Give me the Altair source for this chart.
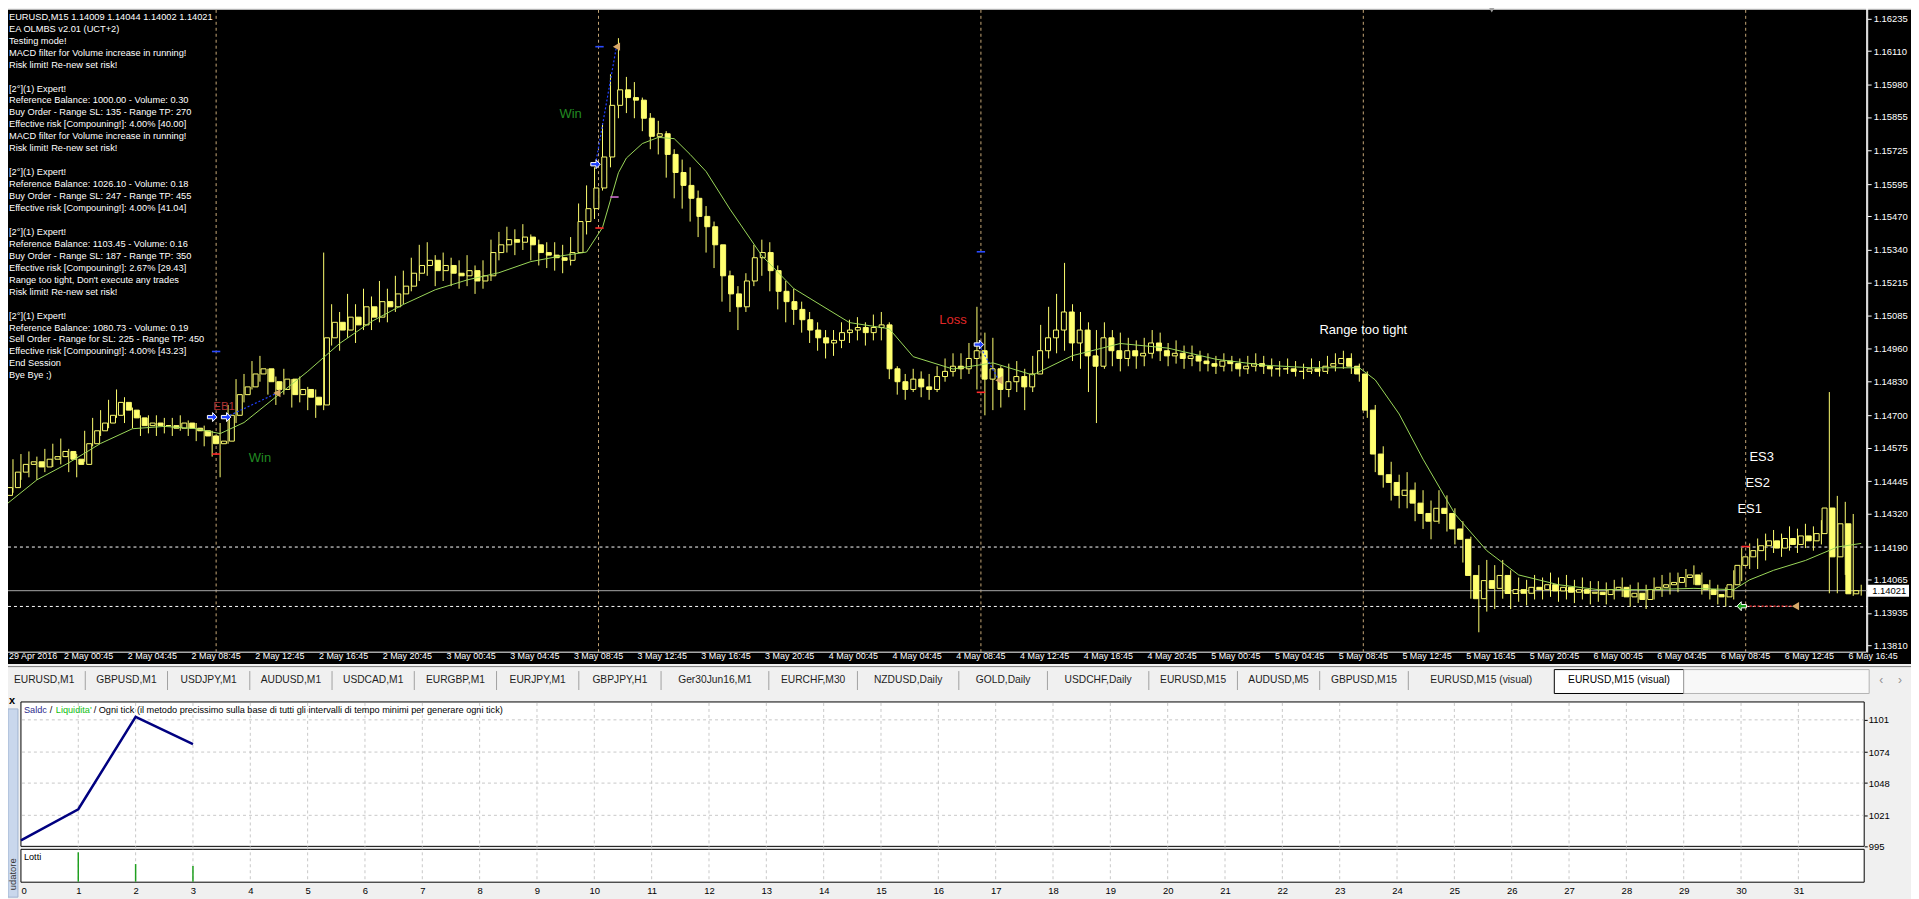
import altair as alt
import pandas as pd

# ---------------- values ----------------
first_open = 1.1439
close = [
1.1442, 1.1448, 1.1451, 1.1452, 1.1450, 1.1453, 1.1454, 1.1456, 1.1453, 1.1451,
1.1459, 1.1464, 1.1467, 1.1470, 1.1475, 1.1472, 1.1469, 1.1466, 1.1467, 1.1466,
1.1466, 1.1465, 1.1467, 1.1465, 1.1464, 1.1462, 1.1459, 1.1460, 1.1470, 1.1478,
1.1481, 1.1486, 1.1488, 1.1483, 1.1480, 1.1484, 1.1478, 1.1480, 1.1477, 1.1474,
1.1500, 1.1506, 1.1503, 1.1508, 1.1505, 1.1512, 1.1508, 1.1514, 1.1512, 1.1517,
1.1520, 1.1525, 1.1528, 1.1530, 1.1526, 1.1528, 1.1525, 1.1524, 1.1526, 1.1522,
1.1524, 1.1533, 1.1536, 1.1538, 1.1537, 1.1539, 1.1536, 1.1533, 1.1532, 1.1531,
1.1530, 1.1533, 1.1545, 1.1550, 1.1558, 1.1570, 1.1590, 1.1596, 1.1593, 1.1592,
1.1585, 1.1578, 1.1579, 1.1571, 1.1564, 1.1559, 1.1554, 1.1547, 1.1543, 1.1536,
1.1524, 1.1517, 1.1512, 1.1522, 1.1531, 1.1533, 1.1526, 1.1518, 1.1514, 1.1511,
1.1507, 1.1503, 1.1500, 1.1498, 1.1499, 1.1502, 1.1503, 1.1504, 1.1502, 1.1504,
1.1505, 1.1488, 1.1483, 1.1480, 1.1484, 1.1481, 1.1480, 1.1485, 1.1487, 1.1489,
1.1488, 1.1492, 1.1495, 1.1484, 1.1488, 1.1480, 1.1483, 1.1485, 1.1481, 1.1486,
1.1495, 1.1500, 1.1503, 1.1510, 1.1498, 1.1503, 1.1493, 1.1489, 1.1500, 1.1495,
1.1492, 1.1495, 1.1493, 1.1494, 1.1498, 1.1495, 1.1493, 1.1494, 1.1492, 1.1493,
1.1491, 1.1490, 1.1489, 1.1491, 1.1490, 1.1488, 1.1489, 1.1490, 1.1489, 1.1488,
1.1488, 1.1488, 1.1487, 1.1487, 1.1488, 1.1487, 1.1489, 1.1490, 1.1492, 1.1489,
1.1486, 1.1472, 1.1455, 1.1447, 1.1444, 1.1439, 1.1441, 1.1436, 1.1432, 1.1429,
1.1434, 1.1432, 1.1426, 1.1422, 1.1408, 1.1399, 1.1406, 1.1403, 1.1408, 1.1401,
1.14025, 1.14011, 1.14034, 1.14025, 1.14044, 1.14020, 1.14034, 1.14015, 1.14025, 1.14011,
1.14015, 1.14006, 1.14025, 1.14034, 1.13997, 1.14011, 1.13987, 1.14025, 1.14034, 1.14044,
1.14053, 1.14072, 1.14082, 1.14044, 1.14025, 1.14006, 1.13997, 1.14044, 1.14119, 1.14152,
1.14176, 1.14195, 1.14214, 1.14186, 1.14223, 1.14200, 1.14233, 1.14214, 1.14242, 1.14341,
1.14152, 1.14280, 1.14009, 1.14021,
]
high = [
1.1447, 1.1453, 1.1455, 1.1456, 1.1454, 1.1457, 1.1459, 1.1461, 1.1457, 1.1455,
1.1464, 1.1469, 1.1472, 1.1476, 1.1480, 1.1477, 1.1473, 1.1470, 1.1470, 1.1470,
1.1469, 1.1469, 1.1470, 1.1468, 1.1467, 1.1466, 1.1464, 1.1467, 1.1474, 1.1484,
1.1486, 1.1491, 1.1493, 1.1488, 1.1485, 1.1488, 1.1484, 1.1485, 1.1481, 1.1480,
1.1533, 1.1513, 1.1510, 1.1517, 1.1513, 1.1519, 1.1516, 1.1522, 1.1519, 1.1524,
1.1526, 1.1531, 1.1536, 1.1537, 1.1532, 1.1533, 1.1531, 1.1530, 1.1532, 1.1528,
1.1530, 1.1538, 1.1541, 1.1543, 1.1542, 1.1544, 1.1540, 1.1538, 1.1537, 1.1537,
1.1536, 1.1539, 1.1552, 1.1559, 1.1566, 1.1583, 1.1602, 1.1616, 1.1601, 1.1599,
1.1593, 1.1587, 1.1584, 1.1580, 1.1573, 1.1569, 1.1566, 1.1557, 1.1551, 1.1545,
1.1533, 1.1526, 1.1520, 1.1525, 1.1536, 1.1538, 1.1537, 1.1528, 1.1522, 1.1519,
1.1514, 1.1510, 1.1506, 1.1503, 1.1503, 1.1506, 1.1507, 1.1508, 1.1506, 1.1509,
1.1510, 1.1506, 1.1489, 1.1486, 1.1488, 1.1487, 1.1486, 1.1489, 1.1492, 1.1494,
1.1494, 1.1498, 1.1512, 1.1502, 1.1500, 1.1489, 1.1490, 1.1491, 1.1488, 1.1493,
1.1505, 1.1512, 1.1517, 1.1529, 1.1513, 1.1510, 1.1506, 1.1503, 1.1506, 1.1503,
1.1502, 1.1500, 1.1499, 1.1500, 1.1503, 1.1502, 1.1498, 1.1499, 1.1497, 1.1497,
1.1495, 1.1494, 1.1493, 1.1494, 1.1493, 1.1492, 1.1493, 1.1494, 1.1493, 1.1492,
1.1491, 1.1492, 1.1491, 1.1490, 1.1492, 1.1491, 1.1493, 1.1494, 1.1495, 1.1494,
1.1490, 1.1487, 1.1474, 1.1458, 1.1452, 1.1447, 1.1448, 1.1444, 1.1441, 1.1437,
1.1441, 1.1439, 1.1434, 1.1429, 1.1423, 1.1412, 1.1414, 1.1412, 1.1414, 1.1410,
1.14072, 1.14063, 1.14082, 1.14072, 1.14091, 1.14072, 1.14082, 1.14063, 1.14072, 1.14058,
1.14058, 1.14053, 1.14063, 1.14072, 1.14044, 1.14053, 1.14044, 1.14072, 1.14082, 1.14091,
1.14091, 1.14105, 1.14119, 1.14091, 1.14063, 1.14044, 1.14034, 1.14100, 1.14186, 1.14204,
1.14223, 1.14242, 1.14256, 1.14242, 1.14270, 1.14261, 1.14280, 1.14270, 1.14294, 1.14790,
1.14388, 1.14365, 1.14318, 1.14044,
]
low = [
1.1436, 1.1440, 1.1445, 1.1446, 1.1445, 1.1448, 1.1450, 1.1451, 1.1448, 1.1446,
1.1452, 1.1458, 1.1462, 1.1465, 1.1469, 1.1467, 1.1465, 1.1462, 1.1463, 1.1462,
1.1463, 1.1462, 1.1464, 1.1462, 1.1460, 1.1458, 1.1454, 1.1446, 1.1459, 1.1467,
1.1475, 1.1480, 1.1483, 1.1478, 1.1474, 1.1478, 1.1473, 1.1475, 1.1472, 1.1469,
1.1472, 1.1497, 1.1495, 1.1500, 1.1498, 1.1503, 1.1503, 1.1506, 1.1506, 1.1510,
1.1513, 1.1518, 1.1522, 1.1524, 1.1520, 1.1522, 1.1520, 1.1519, 1.1520, 1.1517,
1.1519, 1.1522, 1.1530, 1.1533, 1.1532, 1.1534, 1.1530, 1.1528, 1.1527, 1.1526,
1.1525, 1.1528, 1.1533, 1.1540, 1.1546, 1.1557, 1.1566, 1.1585, 1.1587, 1.1585,
1.1580, 1.1573, 1.1571, 1.1562, 1.1554, 1.1550, 1.1545, 1.1539, 1.1533, 1.1527,
1.1514, 1.1510, 1.1503, 1.1510, 1.1520, 1.1524, 1.1518, 1.1511, 1.1506, 1.1505,
1.1502, 1.1498, 1.1495, 1.1492, 1.1493, 1.1496, 1.1498, 1.1499, 1.1497, 1.1499,
1.1499, 1.1484, 1.1478, 1.1476, 1.1479, 1.1477, 1.1476, 1.1479, 1.1483, 1.1485,
1.1484, 1.1486, 1.1480, 1.1470, 1.1472, 1.1473, 1.1477, 1.1479, 1.1472, 1.1479,
1.1488, 1.1492, 1.1494, 1.1495, 1.1491, 1.1488, 1.1479, 1.1467, 1.1488, 1.1489,
1.1487, 1.1489, 1.1488, 1.1489, 1.1492, 1.1491, 1.1489, 1.1490, 1.1488, 1.1489,
1.1487, 1.1487, 1.1486, 1.1487, 1.1487, 1.1485, 1.1486, 1.1487, 1.1486, 1.1485,
1.1485, 1.1486, 1.1485, 1.1484, 1.1486, 1.1485, 1.1486, 1.1487, 1.1488, 1.1486,
1.1483, 1.1469, 1.1448, 1.1442, 1.1437, 1.1434, 1.1434, 1.1429, 1.1426, 1.1422,
1.1428, 1.1425, 1.1420, 1.1413, 1.1399, 1.1386, 1.1394, 1.1395, 1.1399, 1.1395,
1.13978, 1.13964, 1.13987, 1.13987, 1.13997, 1.13978, 1.13987, 1.13973, 1.13987, 1.13968,
1.13978, 1.13968, 1.13987, 1.13997, 1.13959, 1.13973, 1.13950, 1.13987, 1.13997, 1.14006,
1.14015, 1.14034, 1.14044, 1.14006, 1.13987, 1.13968, 1.13959, 1.13987, 1.14058, 1.14105,
1.14105, 1.14138, 1.14167, 1.14152, 1.14176, 1.14167, 1.14186, 1.14176, 1.14200, 1.14011,
1.14011, 1.14082, 1.14001, 1.14002,
]

# moving average (bar index on the M15 axis, value)
ma_bar = [0, 8, 16, 24, 32, 40, 48, 54, 60, 68, 76, 84, 92, 100, 108, 116, 124, 132, 140, 146,
          150, 154, 156, 160, 164, 168, 172, 176, 182, 190, 198, 212, 222, 228, 238, 248, 258, 268, 280, 292,
          304, 316, 328, 340, 344, 350, 356, 364, 372, 380, 390, 400, 412, 424, 434, 438, 444, 452, 460, 466]
ma_val = [1.14351, 1.14450, 1.14516, 1.14591, 1.14648, 1.14657, 1.14648, 1.14629, 1.14672, 1.14771,
          1.14870, 1.14978, 1.15063, 1.15129, 1.15186, 1.15224, 1.15252, 1.15295, 1.15318, 1.15332,
          1.15427, 1.15639, 1.15696, 1.15752, 1.15776, 1.15771, 1.15710, 1.15644, 1.15498, 1.15318,
          1.15191, 1.15059, 1.15035, 1.14927, 1.14879, 1.14903, 1.14856, 1.14931, 1.14978, 1.14960,
          1.14917, 1.14894, 1.14884, 1.14884, 1.14837, 1.14705, 1.14530, 1.14318, 1.14176, 1.14082,
          1.14044, 1.14025, 1.14025, 1.14030, 1.14025, 1.14063, 1.14100, 1.14138, 1.14190, 1.14204]

time_labels = ["29 Apr 2016",
               "2 May 00:45", "2 May 04:45", "2 May 08:45", "2 May 12:45", "2 May 16:45", "2 May 20:45",
               "3 May 00:45", "3 May 04:45", "3 May 08:45", "3 May 12:45", "3 May 16:45", "3 May 20:45",
               "4 May 00:45", "4 May 04:45", "4 May 08:45", "4 May 12:45", "4 May 16:45", "4 May 20:45",
               "5 May 00:45", "5 May 04:45", "5 May 08:45", "5 May 12:45", "5 May 16:45", "5 May 20:45",
               "6 May 00:45", "6 May 04:45", "6 May 08:45", "6 May 12:45", "6 May 16:45"]
price_ticks = [1.16235, 1.16110, 1.15980, 1.15855, 1.15725, 1.15595, 1.15470, 1.15340, 1.15215, 1.15085,
               1.14960, 1.14830, 1.14700, 1.14575, 1.14445, 1.14320, 1.14190, 1.14065, 1.13935, 1.13810]
bid = 1.14021
order_levels = [1.14190, 1.13960]
session_bars = [53, 149, 245, 341, 437]

buy_bar = [52, 55.5, 148.25, 244.5]
buy_price = [1.14693, 1.14693, 1.15672, 1.14974]
exit_bar = [68.25, 153.5, 249.5, 449.5]
exit_price = [1.14786, 1.16127, 1.14836, 1.13961]
sell_bar = [436]
sell_price = [1.13961]
sl_bar = [53, 149.25, 245, 437]
sl_price = [1.14550, 1.15425, 1.14789, 1.14192]
tp_bar = [53, 149.25, 245]
tp_price = [1.14947, 1.16127, 1.15333]
mod_bar = [153]
mod_price = [1.15545]

ann_text = ["Win", "Win", "Loss", "Range too tight", "ES3", "ES2", "ES1"]
ann_bar = [64, 142, 238, 341, 441, 440, 438]
ann_price = [1.14536, 1.15866, 1.15069, 1.15032, 1.14539, 1.14437, 1.14337]
ann_color = ["#228B22", "#228B22", "#E02828", "#FFFFFF", "#FFFFFF", "#FFFFFF", "#FFFFFF"]

info_lines = [
    "EURUSD,M15  1.14009 1.14044 1.14002 1.14021",
    "EA OLMBS v2.01 (UCT+2)",
    "Testing mode!",
    "MACD filter for Volume increase in running!",
    "Risk limit! Re-new set risk!",
    "",
    "[2°](1) Expert!",
    "Reference Balance: 1000.00 - Volume: 0.30",
    "Buy Order - Range SL: 135 - Range TP: 270",
    "Effective risk [Compouning!]: 4.00% [40.00]",
    "MACD filter for Volume increase in running!",
    "Risk limit! Re-new set risk!",
    "",
    "[2°](1) Expert!",
    "Reference Balance: 1026.10 - Volume: 0.18",
    "Buy Order - Range SL: 247 - Range TP: 455",
    "Effective risk [Compouning!]: 4.00% [41.04]",
    "",
    "[2°](1) Expert!",
    "Reference Balance: 1103.45 - Volume: 0.16",
    "Buy Order - Range SL: 187 - Range TP: 350",
    "Effective risk [Compouning!]: 2.67% [29.43]",
    "Range too tight, Don't execute any trades",
    "Risk limit! Re-new set risk!",
    "",
    "[2°](1) Expert!",
    "Reference Balance: 1080.73 - Volume: 0.19",
    "Sell Order - Range for SL: 225 - Range TP: 450",
    "Effective risk [Compouning!]: 4.00% [43.23]",
    "End Session",
    "Bye Bye ;)",
]

tabs = ["EURUSD,M1", "GBPUSD,M1", "USDJPY,M1", "AUDUSD,M1", "USDCAD,M1", "EURGBP,M1", "EURJPY,M1",
        "GBPJPY,H1", "Ger30Jun16,M1", "EURCHF,M30", "NZDUSD,Daily", "GOLD,Daily", "USDCHF,Daily",
        "EURUSD,M15", "AUDUSD,M5", "GBPUSD,M15", "EURUSD,M15 (visual)"]
active_tab = "EURUSD,M15 (visual)"

trade_no = [0, 1, 2, 3]
balance = [1000.00, 1026.10, 1103.45, 1080.73]
lot_trade = [1, 2, 3]
lots = [0.30, 0.18, 0.16]
balance_ticks = [995, 1021, 1048, 1074, 1101]

# ---------------- layout (pixels inside the drawing, page = pixel + 8) ----------------
W, H = 1867, 876
FULLW, FULLH = 1911, 891
PLOT_B = 645
YEL = "#FFFF70"
MAG = "#9BD85A"
FONT = "Liberation Sans"
T_TOP, T_BOT = 695, 840
L_TOP, L_BOT = 843, 876
P_RIGHT = 1864

X_MAIN = alt.Scale(domain=[-0.5, 467.5], range=[-5, W], zero=False, nice=False)
Y_MAIN = alt.Scale(domain=[1.13783, 1.16285], range=[PLOT_B, -4], zero=False, nice=False)
X_T = alt.Scale(domain=[0, 32.2], range=[13, W], zero=False, nice=False)
Y_T = alt.Scale(domain=[995, 1116], range=[T_BOT, T_TOP], zero=False, nice=False)
Y_L = alt.Scale(domain=[0, 0.3305], range=[875.5, L_TOP], zero=False, nice=False)


def xm(f):
    return alt.X(f, type="quantitative", scale=X_MAIN, axis=None)


def ym(f):
    return alt.Y(f, type="quantitative", scale=Y_MAIN, axis=None)


one = pd.DataFrame({"a": [0]})


def box(x0, x1, y0, y1, **kw):
    return alt.Chart(one).mark_rect(**kw).encode(
        x=alt.value(x0), x2=alt.value(x1), y=alt.value(y0), y2=alt.value(y1))


bars = pd.DataFrame({"t": [2 * k for k in range(len(close))], "close": close, "high": high, "low": low})
bars["open"] = [first_open] + close[:-1]

layers = []
# backgrounds
layers.append(box(0, FULLW, 0, 657, color="black"))
layers.append(box(-5, W - 0.5, -4, PLOT_B, fillOpacity=0, stroke="#FFFFFF", strokeWidth=1))

# session separators and order levels
layers.append(alt.Chart(pd.DataFrame({"t": session_bars})).mark_rule(
    color="#C8A878", strokeDash=[3, 3], strokeWidth=1).encode(x=xm("t"), y=alt.value(0), y2=alt.value(PLOT_B)))
layers.append(alt.Chart(pd.DataFrame({"p": order_levels})).mark_rule(
    color="#FFFFFF", strokeDash=[3, 3], strokeWidth=1).encode(y=ym("p"), x=alt.value(0), x2=alt.value(W)))
layers.append(alt.Chart(pd.DataFrame({"p": [bid]})).mark_rule(
    color="#A8A8A8", strokeWidth=1).encode(y=ym("p"), x=alt.value(0), x2=alt.value(W)))

# candles
price_axis = alt.Axis(orient="right", values=price_ticks, format=".5f", title=None, grid=False,
                      labelColor="#FFFFFF", labelFont=FONT, labelFontSize=9.5, tickColor="#FFFFFF",
                      tickSize=4, domainColor="#FFFFFF", labelPadding=2, zindex=1, labelOverlap=False)
layers.append(alt.Chart(bars).mark_rule(color=YEL, strokeWidth=1).encode(
    x=xm("t"), y=alt.Y("low:Q", scale=Y_MAIN, axis=price_axis), y2="high:Q"))
layers.append(alt.Chart(bars).mark_bar(width=5, stroke=YEL, strokeWidth=1).encode(
    x=xm("t"), y=ym("open"), y2="close:Q",
    fill=alt.condition("datum.close >= datum.open", alt.value("#000000"), alt.value(YEL))))

# moving average
layers.append(alt.Chart(pd.DataFrame({"t": ma_bar, "p": ma_val})).mark_line(
    color=MAG, strokeWidth=1).encode(x=xm("t"), y=ym("p")))

# trade lines
tl = pd.DataFrame({"t0": buy_bar[1:] + sell_bar, "p0": buy_price[1:] + sell_price,
                   "t1": exit_bar, "p1": exit_price,
                   "col": ["#2040FF", "#2040FF", "#2040FF", "#FF3030"]})
layers.append(alt.Chart(tl).mark_rule(strokeDash=[2, 2], strokeWidth=1.2).encode(
    x=xm("t0"), x2="t1:Q", y=ym("p0"), y2="p1:Q", color=alt.Color("col:N", scale=None)))

RIGHT_ARROW = "M-1,-0.35L0.1,-0.35L0.1,-0.95L1,0L0.1,0.95L0.1,0.35L-1,0.35Z"
LEFT_ARROW = "M1,-0.35L-0.1,-0.35L-0.1,-0.95L-1,0L-0.1,0.95L-0.1,0.35L1,0.35Z"
layers.append(alt.Chart(pd.DataFrame({"t": buy_bar, "p": buy_price})).mark_point(
    shape=RIGHT_ARROW, filled=True, fill="#1D3FFF", stroke="#FFFFFF", strokeWidth=1, size=90, opacity=1
).encode(x=xm("t"), y=ym("p")))
layers.append(alt.Chart(pd.DataFrame({"t": sell_bar, "p": sell_price})).mark_point(
    shape=LEFT_ARROW, filled=True, fill="#18A018", stroke="#FFFFFF", strokeWidth=1, size=90, opacity=1
).encode(x=xm("t"), y=ym("p")))
layers.append(alt.Chart(pd.DataFrame({"t": exit_bar, "p": exit_price})).mark_point(
    shape="triangle-left", filled=True, color="#D8A868", size=70, opacity=1
).encode(x=xm("t"), y=ym("p")))
ticks = pd.DataFrame({"t": sl_bar + tp_bar + mod_bar, "p": sl_price + tp_price + mod_price,
                      "col": ["#FF2A2A"] * len(sl_bar) + ["#2A4AFF"] * len(tp_bar) + ["#D070D0"]})
layers.append(alt.Chart(ticks).mark_point(shape="stroke", filled=False, strokeWidth=1.6, size=70, opacity=1).encode(
    x=xm("t"), y=ym("p"), color=alt.Color("col:N", scale=None)))

# annotations
ann = pd.DataFrame({"t": ann_bar, "p": ann_price, "txt": ann_text, "col": ann_color})
layers.append(alt.Chart(ann).mark_text(font=FONT, fontSize=13).encode(
    x=xm("t"), y=ym("p"), text="txt:N", color=alt.Color("col:N", scale=None)))
layers.append(alt.Chart(pd.DataFrame({"t": [55], "p": [1.14732], "txt": ["EB1"]})).mark_text(
    font=FONT, fontSize=11.5, color="#B03434").encode(x=xm("t"), y=ym("p"), text="txt:N"))

# bid price label box
biddf = pd.DataFrame({"p": [bid]})
layers.append(alt.Chart(biddf).mark_rect(color="#FFFFFF", yOffset=-6, y2Offset=6).encode(
    y=ym("p"), y2="p:Q", x=alt.value(W), x2=alt.value(W + 42)))
layers.append(alt.Chart(biddf).mark_text(align="left", color="#000000", font=FONT, fontSize=9.5).encode(
    y=ym("p"), x=alt.value(W + 5), text=alt.Text("p:Q", format=".5f")))

# time labels
xl = pd.DataFrame({"t": [5 + 16 * m for m in range(1, len(time_labels))], "lab": time_labels[1:]})
layers.append(alt.Chart(xl).mark_text(color="#FFFFFF", font=FONT, fontSize=9).encode(
    x=xm("t"), y=alt.value(PLOT_B + 4), text="lab:N"))
layers.append(alt.Chart(pd.DataFrame({"t": [-0.5], "lab": time_labels[:1]})).mark_text(
    color="#FFFFFF", font=FONT, fontSize=9, align="left", dx=1).encode(
    x=alt.value(0), y=alt.value(PLOT_B + 4), text="lab:N"))

# info text: one row per line, blank lines keep their slot
info = pd.DataFrame({"txt": info_lines, "row": list(range(len(info_lines)))})
info = info[info["txt"] != ""]
layers.append(alt.Chart(info).mark_text(
    align="left", baseline="middle", color="#FFFFFF", font=FONT, fontSize=9.3
).transform_calculate(py="7 + 12 * datum.row").encode(
    x=alt.value(1), y=alt.Y("py:Q", scale=None), text="txt:N"))
layers.append(alt.Chart(one).mark_point(shape="triangle-down", filled=True, color="#A0A0A0", size=35, opacity=1).encode(
    x=alt.value(1490), y=alt.value(0)))

# ---------------- tab bar ----------------
widths = [25 + 6.4 * len(t) for t in tabs]
lefts, pos = [], -5.0
for w in widths:
    lefts.append(pos)
    pos += w
tabdf = pd.DataFrame({"name": tabs, "cx": [l + w / 2 for l, w in zip(lefts, widths)],
                      "sep": [l + w for l, w in zip(lefts, widths)]})
act_l, act_r = pos, pos + 130
TAB_Y = 673
layers.append(alt.Chart(one).mark_rule(color="#7A7A7A").encode(
    x=alt.value(0), x2=alt.value(FULLW), y=alt.value(659.5)))
layers.append(alt.Chart(tabdf.iloc[:-1]).mark_rule(color="#A0A0A0").encode(
    x=alt.X("sep:Q", scale=None), y=alt.value(664), y2=alt.value(683)))
layers.append(alt.Chart(tabdf).mark_text(color="#1E1E1E", font=FONT, fontSize=10.3).encode(
    x=alt.X("cx:Q", scale=None), y=alt.value(TAB_Y), text="name:N"))
layers.append(box(act_l, act_r, 662.5, 686.5, fill="#FFFFFF", stroke="#000000", strokeWidth=1))
layers.append(alt.Chart(pd.DataFrame({"name": [active_tab]})).mark_text(
    color="#000000", font=FONT, fontSize=10.3).encode(
    x=alt.value((act_l + act_r) / 2), y=alt.value(TAB_Y), text="name:N"))
layers.append(box(act_r, 1869, 662.5, 686.5, fill="#F8F8F8", stroke="#B4B4B4", strokeWidth=1))
layers.append(alt.Chart(pd.DataFrame({"s": ["\u2039", "\u203a"], "px": [1881, 1900]})).mark_text(
    color="#909090", font=FONT, fontSize=12).encode(x=alt.X("px:Q", scale=None), y=alt.value(TAB_Y), text="s:N"))

# ---------------- tester ----------------
layers.append(box(0, 10, 702, FULLH, fill="#C9D7EC", stroke="#9FB3D1", strokeWidth=1))
layers.append(alt.Chart(pd.DataFrame({"s": ["udatore"]})).mark_text(
    angle=270, align="right", baseline="middle", color="#333333", font=FONT, fontSize=9.5).encode(
    x=alt.value(5.5), y=alt.value(852), text="s:N"))
layers.append(alt.Chart(pd.DataFrame({"s": ["x"]})).mark_text(
    align="left", color="#000000", font=FONT, fontSize=11, fontWeight="bold").encode(
    x=alt.value(1), y=alt.value(694), text="s:N"))
layers.append(box(13, P_RIGHT, T_TOP, T_BOT, fill="#FFFFFF", stroke="#000000", strokeWidth=1))
layers.append(box(13, P_RIGHT, L_TOP, L_BOT, fill="#FFFFFF", stroke="#000000", strokeWidth=1))
layers.append(alt.Chart(pd.DataFrame({"v": balance_ticks[1:]})).mark_rule(
    color="#C8C8C8", strokeDash=[3, 3]).encode(
    y=alt.Y("v:Q", scale=Y_T, axis=None), x=alt.value(14), x2=alt.value(P_RIGHT - 1)))
layers.append(alt.Chart(pd.DataFrame({"v": list(range(1, 32))})).mark_rule(
    color="#C8C8C8", strokeDash=[3, 3]).encode(
    x=alt.X("v:Q", scale=X_T, axis=None), y=alt.value(T_TOP + 1), y2=alt.value(L_BOT - 1)))

x_t_axis = alt.Axis(orient="bottom", values=list(range(0, 32)), format="d", title=None, grid=False,
                    labelColor="#000000", labelFont=FONT, labelFontSize=9.5, tickSize=0, domain=False,
                    labelPadding=3, zindex=1, labelOverlap=False)
y_t_axis = alt.Axis(orient="right", values=balance_ticks, format="d", title=None, grid=False,
                    labelColor="#000000", labelFont=FONT, labelFontSize=9.5, tickSize=3, tickColor="#000000",
                    domain=False, labelPadding=1, offset=-3, zindex=1, labelOverlap=False)
layers.append(alt.Chart(pd.DataFrame({"n": trade_no, "b": balance})).mark_line(
    color="#000080", strokeWidth=2.5).encode(
    x=alt.X("n:Q", scale=X_T, axis=x_t_axis), y=alt.Y("b:Q", scale=Y_T, axis=y_t_axis)))
layers.append(alt.Chart(pd.DataFrame({"n": lot_trade, "v": lots})).mark_rule(
    color="#1FA01F", strokeWidth=1.5).encode(
    x=alt.X("n:Q", scale=X_T, axis=None), y=alt.Y("v:Q", scale=Y_L, axis=None), y2=alt.value(L_BOT - 0.5)))

legend = pd.DataFrame({
    "txt": ["Saldc", "/", "Liquidita'",
            "/ Ogni tick (il metodo precissimo sulla base di tutti gli intervalli di tempo minimi per generare ogni tick)"],
    "px": [16, 42, 48, 86], "col": ["#2B2B8C", "#000000", "#10C010", "#000000"]})
layers.append(alt.Chart(legend).mark_text(align="left", font=FONT, fontSize=9.2).encode(
    x=alt.X("px:Q", scale=None), y=alt.value(703), text="txt:N", color=alt.Color("col:N", scale=None)))
layers.append(alt.Chart(pd.DataFrame({"s": ["Lotti"]})).mark_text(
    align="left", font=FONT, fontSize=9.2, color="#000000").encode(x=alt.value(16), y=alt.value(851), text="s:N"))

chart = alt.layer(*layers).resolve_scale(x="independent", y="independent").properties(
    width=W, height=H,
    autosize=alt.AutoSizeParams(type="none"),
    padding={"left": 0, "top": 0, "right": FULLW - W, "bottom": FULLH - H},
    background="#F0F0F0",
).configure_view(stroke=None)

chart.save("out.html", embed_options={"renderer": "svg", "actions": False})
